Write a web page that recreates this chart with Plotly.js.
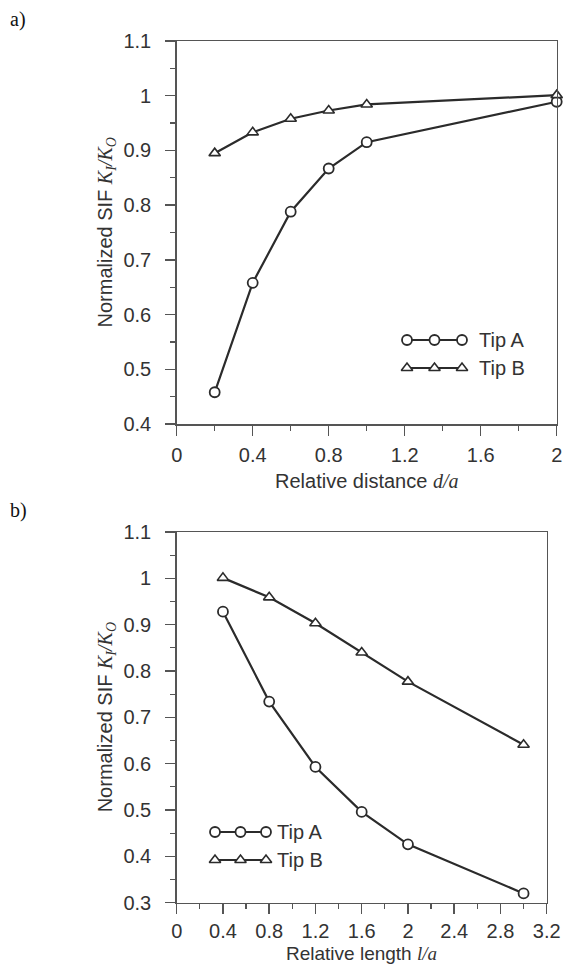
<!DOCTYPE html>
<html><head><meta charset="utf-8">
<script src="https://cdn.plot.ly/plotly-3.0.1.min.js"></script>
<style>html,body{margin:0;padding:0;background:#fff}#chart{width:564px;height:966px}</style>
</head><body><div id="chart"></div>
<script>
// ---- data: panel a) (relative distance d/a) ----
const distA  = [0.2, 0.4, 0.6, 0.8, 1.0, 2.0];
const tipA_a = [0.458, 0.658, 0.788, 0.867, 0.915, 0.989];
const tipB_a = [0.895, 0.933, 0.958, 0.973, 0.984, 1.001];
// ---- data: panel b) (relative length l/a) ----
const lenB   = [0.4, 0.8, 1.2, 1.6, 2.0, 3.0];
const tipA_b = [0.928, 0.734, 0.593, 0.496, 0.426, 0.320];
const tipB_b = [1.001, 0.959, 0.903, 0.840, 0.777, 0.641];
const seriesNames = ['Tip A', 'Tip B'];
const panelLabels = ['a)', 'b)'];

const W = 564, H = 966;
const SANS = 'Liberation Sans, Arial, sans-serif';
const SERIF = 'Liberation Serif, Times New Roman, serif';
const INK = '#2b2b2b', AX = '#555';
const FS = 20;
const px = v => v / W, py = v => 1 - v / H;

// plot boxes in pixels
const boxA = {l: 176.7, r: 556.7, t: 41, b: 424};
const boxB = {l: 176.7, r: 546.7, t: 532, b: 902.7};

const lineStyle = {color: INK, width: 2.2};
const markA = {symbol: 'circle', size: 10, color: 'white', line: {color: INK, width: 1.8}};
const markB = {symbol: 'triangle-up', size: 10, color: 'white', line: {color: INK, width: 1.6}};

function tr(x, y, xa, ya, mk, name) {
  return {x, y, xaxis: xa, yaxis: ya, mode: 'lines+markers', name, showlegend: false,
          line: lineStyle, marker: mk, cliponaxis: false, hoverinfo: 'x+y'};
}

const traces = [
  tr(distA, tipA_a, 'x', 'y', markA, seriesNames[0]),
  tr(distA, tipB_a, 'x', 'y', markB, seriesNames[1]),
  tr(lenB, tipA_b, 'x2', 'y2', markA, seriesNames[0]),
  tr(lenB, tipB_b, 'x2', 'y2', markB, seriesNames[1]),
];

// legend glyphs (three markers per entry) drawn on hidden overlay axes (fraction of plot box)
function legendGlyph(box, xa, ya, xs, yA, yB) {
  const fx = xs.map(v => (v - box.l) / (box.r - box.l));
  const fyA = (box.b - yA) / (box.b - box.t), fyB = (box.b - yB) / (box.b - box.t);
  traces.push(tr(fx, fx.map(() => fyA), xa, ya, markA, seriesNames[0]));
  traces.push(tr(fx, fx.map(() => fyB), xa, ya, markB, seriesNames[1]));
}
legendGlyph(boxA, 'x3', 'y3', [407, 434.5, 462], 340, 368);
legendGlyph(boxB, 'x4', 'y4', [215, 240.5, 266], 832, 860);

function axis(domain, range, dtick, mdtick, standoff) {
  return {
    domain, range, dtick, tick0: 0, showline: true, linecolor: AX, linewidth: 1.5, mirror: true,
    ticks: 'outside', ticklen: 10, tickwidth: 1.5, tickcolor: AX, showgrid: false, zeroline: false,
    tickfont: {family: SANS, size: FS, color: '#333'}, ticklabelstandoff: standoff,
    minor: {ticks: 'outside', ticklen: 5, tickwidth: 1.2, tickcolor: AX, dtick: mdtick, showgrid: false},
    fixedrange: true
  };
}
const hidden = (ov, anchor) => ({overlaying: ov, range: [0, 1], visible: false, fixedrange: true, anchor});

const layout = {
  width: W, height: H, margin: {l: 0, r: 0, t: 0, b: 0},
  paper_bgcolor: 'white', plot_bgcolor: 'white', showlegend: false,
  font: {family: SANS, size: FS, color: '#333'},
  xaxis: Object.assign(axis([px(boxA.l), px(boxA.r)], [0, 2], 0.4, 0.2, 2), {anchor: 'y'}),
  yaxis: Object.assign(axis([py(boxA.b), py(boxA.t)], [0.4, 1.1], 0.1, 0.05, 10), {anchor: 'x'}),
  xaxis2: Object.assign(axis([px(boxB.l), px(boxB.r)], [0, 3.2], 0.4, 0.2, 0), {anchor: 'y2'}),
  yaxis2: Object.assign(axis([py(boxB.b), py(boxB.t)], [0.3, 1.1], 0.1, 0.05, 10), {anchor: 'x2'}),
  xaxis3: hidden('x', 'y3'), yaxis3: hidden('y', 'x3'),
  xaxis4: hidden('x2', 'y4'), yaxis4: hidden('y2', 'x4'),
  annotations: []
};

const ann = (text, x, y, opts) => layout.annotations.push(Object.assign({
  text, x, y, xref: 'paper', yref: 'paper', showarrow: false,
  xanchor: 'center', yanchor: 'middle', font: {family: SANS, size: FS, color: '#333'}
}, opts || {}));

const ital = s => `<span style="font-family:${SERIF}"><i>${s}</i></span>`;
const yTitle = 'Normalized SIF ' + ital('K<sub>I</sub>/K<sub>O</sub>');

// axis titles
ann('Relative distance ' + ital('d/a'), px((boxA.l + boxA.r) / 2), py(481));
ann('Relative length ' + ital('l/a'), px((boxB.l + boxB.r) / 2), py(965),
    {yanchor: 'bottom', borderpad: 0, font: {family: SANS, size: 19, color: '#333'}});
ann(yTitle, px(106), py((boxA.t + boxA.b) / 2), {textangle: -90});
ann(yTitle, px(106), py((boxB.t + boxB.b) / 2), {textangle: -90});
// legend texts
ann(seriesNames[0], px(477), py(340), {xanchor: 'left'});
ann(seriesNames[1], px(477), py(368), {xanchor: 'left'});
ann(seriesNames[0], px(275), py(832), {xanchor: 'left'});
ann(seriesNames[1], px(275), py(860), {xanchor: 'left'});
// panel labels
ann(panelLabels[0], px(8), py(20), {xanchor: 'left', font: {family: SERIF, size: 20, color: '#111'}});
ann(panelLabels[1], px(8), py(510), {xanchor: 'left', font: {family: SERIF, size: 20, color: '#111'}});

Plotly.newPlot('chart', traces, layout, {staticPlot: true, displayModeBar: false});
</script></body></html>
